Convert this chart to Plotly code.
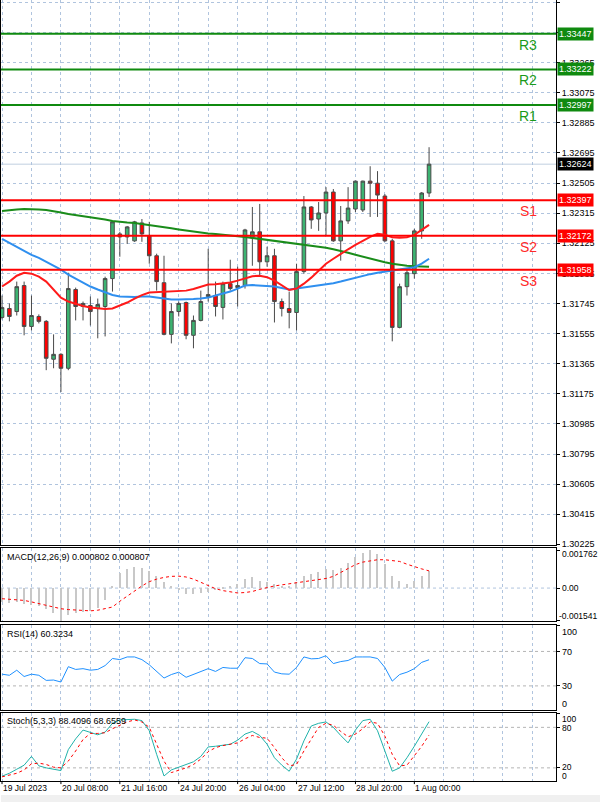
import plotly.graph_objects as go

# ---------------- data ----------------
open_ = [1.31657, 1.31713, 1.31694, 1.31858, 1.31600, 1.31663, 1.31632, 1.31393, 1.31424, 1.31336,
         1.31833, 1.31726, 1.31732, 1.31713, 1.31726, 1.31902, 1.32184, 1.32165, 1.32140, 1.32253,
         1.32172, 1.32046, 1.31876, 1.31550, 1.31694, 1.31751, 1.31544, 1.31638, 1.31789, 1.31795,
         1.31720, 1.31870, 1.31845, 1.31858, 1.32159, 1.32197, 1.32008, 1.32046, 1.31757, 1.31713,
         1.31688, 1.31946, 1.32354, 1.32278, 1.32316, 1.32448, 1.32140, 1.32266, 1.32341, 1.32335,
         1.32517, 1.32504, 1.32423, 1.32140, 1.31594, 1.31851, 1.31933, 1.32203, 1.32442]
high = [1.31795, 1.31745, 1.31883, 1.31883, 1.31795, 1.31676, 1.31640, 1.31550, 1.31431, 1.31939,
        1.31845, 1.31757, 1.31789, 1.31776, 1.31914, 1.32266, 1.32197, 1.32234, 1.32266, 1.32278,
        1.32260, 1.32059, 1.32046, 1.31745, 1.31757, 1.31757, 1.31669, 1.31826, 1.32090, 1.31883,
        1.31883, 1.32021, 1.31977, 1.32216, 1.32354, 1.32373, 1.32103, 1.32090, 1.31776, 1.31820,
        1.31996, 1.32423, 1.32360, 1.32385, 1.32479, 1.32467, 1.32360, 1.32479, 1.32520, 1.32520,
        1.32611, 1.32580, 1.32435, 1.32153, 1.31870, 1.31964, 1.32216, 1.32448, 1.32731]
low = [1.31644, 1.31632, 1.31669, 1.31544, 1.31575, 1.31619, 1.31324, 1.31336, 1.31186, 1.31324,
       1.31638, 1.31638, 1.31606, 1.31525, 1.31537, 1.31820, 1.32040, 1.32121, 1.32134, 1.32134,
       1.31996, 1.31826, 1.31544, 1.31493, 1.31663, 1.31519, 1.31462, 1.31632, 1.31757, 1.31663,
       1.31644, 1.31826, 1.31726, 1.31839, 1.31983, 1.31914, 1.31977, 1.31625, 1.31663, 1.31588,
       1.31575, 1.31933, 1.32216, 1.32203, 1.32172, 1.32134, 1.32015, 1.32247, 1.32322, 1.32322,
       1.32291, 1.32291, 1.32134, 1.31506, 1.31588, 1.31795, 1.31902, 1.32153, 1.32417]
close = [1.31719, 1.31663, 1.31851, 1.31600, 1.31669, 1.31632, 1.31399, 1.31424, 1.31336, 1.31839,
         1.31726, 1.31745, 1.31694, 1.31738, 1.31902, 1.32260, 1.32165, 1.32228, 1.32260, 1.32184,
         1.32046, 1.31883, 1.31550, 1.31694, 1.31745, 1.31544, 1.31638, 1.31757, 1.31801, 1.31726,
         1.31870, 1.31839, 1.31858, 1.32209, 1.32197, 1.32008, 1.32046, 1.31757, 1.31713, 1.31688,
         1.31946, 1.32354, 1.32272, 1.32316, 1.32448, 1.32140, 1.32266, 1.32347, 1.32517, 1.32517,
         1.32504, 1.32429, 1.32140, 1.31594, 1.31851, 1.31939, 1.32203, 1.32442, 1.32624]

ma_slow = [1.32329, 1.32335, 1.32338, 1.32341, 1.32341, 1.32338, 1.32335, 1.32329, 1.32319, 1.32310,
           1.32303, 1.32297, 1.32291, 1.32285, 1.32275, 1.32266, 1.32260, 1.32256, 1.32253, 1.32247,
           1.32241, 1.32234, 1.32228, 1.32219, 1.32212, 1.32206, 1.32197, 1.32190, 1.32187, 1.32184,
           1.32178, 1.32172, 1.32169, 1.32165, 1.32159, 1.32153, 1.32147, 1.32140, 1.32134, 1.32128,
           1.32121, 1.32115, 1.32109, 1.32103, 1.32096, 1.32087, 1.32077, 1.32065, 1.32052, 1.32040,
           1.32027, 1.32014, 1.32005, 1.31996, 1.31989, 1.31983, 1.31980, 1.31977, 1.31977]
ma_mid = [1.32153, 1.32128, 1.32103, 1.32077, 1.32052, 1.32033, 1.32008, 1.31983, 1.31958, 1.31927,
          1.31902, 1.31877, 1.31852, 1.31833, 1.31814, 1.31798, 1.31789, 1.31786, 1.31786, 1.31789,
          1.31789, 1.31782, 1.31776, 1.31770, 1.31770, 1.31770, 1.31773, 1.31776, 1.31782, 1.31795,
          1.31808, 1.31820, 1.31839, 1.31858, 1.31861, 1.31858, 1.31855, 1.31852, 1.31842, 1.31833,
          1.31839, 1.31845, 1.31852, 1.31858, 1.31864, 1.31873, 1.31883, 1.31895, 1.31908, 1.31920,
          1.31930, 1.31939, 1.31946, 1.31952, 1.31958, 1.31964, 1.31974, 1.31996, 1.32027]
ma_fast = [1.31852, 1.31883, 1.31920, 1.31939, 1.31933, 1.31914, 1.31883, 1.31833, 1.31782, 1.31757,
           1.31742, 1.31729, 1.31720, 1.31713, 1.31710, 1.31713, 1.31732, 1.31751, 1.31776, 1.31798,
           1.31814, 1.31817, 1.31820, 1.31820, 1.31823, 1.31826, 1.31836, 1.31852, 1.31864, 1.31867,
           1.31870, 1.31877, 1.31889, 1.31902, 1.31917, 1.31920, 1.31911, 1.31889, 1.31858, 1.31830,
           1.31839, 1.31870, 1.31908, 1.31952, 1.31996, 1.32027, 1.32059, 1.32087, 1.32115, 1.32140,
           1.32165, 1.32184, 1.32178, 1.32162, 1.32159, 1.32162, 1.32178, 1.32209, 1.32241]

macd_main = [-0.00065, -0.00070, -0.00065, -0.00075, -0.00080, -0.00085, -0.00100, -0.00120, -0.001541, -0.00130,
             -0.00120, -0.00115, -0.00110, -0.00095, -0.00055, 0.00005, 0.00070, 0.00090, 0.00100, 0.00095,
             0.00080, 0.00055, 0.00025, 0.00010, -0.00010, -0.00030, -0.00030, -0.00025, -0.00020, -0.00010,
             -0.00002, 0.00008, 0.00020, 0.00040, 0.00050, 0.00030, 0.00028, 0.00018, 0.00008, 0.00010,
             0.00028, 0.00055, 0.00065, 0.00072, 0.00090, 0.00085, 0.00095, 0.00115, 0.00145, 0.00165,
             0.001762, 0.00160, 0.00110, 0.00055, 0.00030, 0.00020, 0.00030, 0.00055, 0.000802]
macd_signal = [-0.00050, -0.00052, -0.00055, -0.00058, -0.00065, -0.00073, -0.00080, -0.00088, -0.00097, -0.00101,
               -0.00104, -0.00107, -0.00107, -0.00104, -0.00098, -0.00089, -0.00062, -0.00038, -0.00012, 0.00010,
               0.00030, 0.00042, 0.00050, 0.00055, 0.00056, 0.00052, 0.00042, 0.00028, 0.00012, -0.00003,
               -0.00012, -0.00019, -0.00023, -0.00021, -0.00016, -0.00006, 0.00003, 0.00010, 0.00015, 0.00020,
               0.00025, 0.00030, 0.00034, 0.00039, 0.00045, 0.00055, 0.00074, 0.00090, 0.00110, 0.00122,
               0.00129, 0.00133, 0.00133, 0.00129, 0.00125, 0.00112, 0.00100, 0.00090, 0.000807]

rsi = [43.6, 42.3, 48.2, 40.9, 43.6, 42.3, 36.4, 36.8, 34.5, 52.3,
       49.1, 50.0, 48.2, 49.1, 53.6, 61.8, 60.5, 63.6, 63.6, 60.5,
       54.5, 46.8, 39.1, 43.2, 45.9, 40.0, 43.6, 46.8, 50.0, 46.8,
       51.4, 50.5, 50.5, 62.7, 61.8, 55.9, 55.5, 46.0, 44.0, 43.6,
       51.4, 63.6, 61.4, 61.8, 65.0, 55.9, 58.2, 59.5, 63.6, 63.6,
       63.6, 61.8, 51.4, 35.5, 43.2, 45.9, 50.0, 57.3, 60.3234]

stoch_k = [7.7, 12, 18, 24, 37, 23, 20, 18, 16, 47,
           63, 76, 72, 69, 73, 86, 91, 91, 92, 90,
           75, 40, 8, 17, 21, 25, 29, 37, 51, 52,
           53, 55, 61, 70, 74, 68, 55, 35, 24, 15,
           33, 60, 82, 86, 88, 80, 68, 57, 76, 90,
           92, 75, 45, 15, 20, 35, 52, 70, 88.4096]
stoch_d = [6.7, 9, 12, 17, 26, 27, 25, 21, 20, 30,
           45, 62, 71, 71, 72, 78, 83, 88, 91, 88,
           80, 55, 30, 13, 16, 20, 25, 33, 44, 50,
           53, 55, 57, 63, 68, 65, 64, 50, 35, 23,
           25, 45, 62, 80, 86, 83, 74, 66, 70, 78,
           88, 86, 67, 40, 23, 24, 38, 52, 68.6559]

date_labels = ["19 Jul 2023", "20 Jul 08:00", "21 Jul 16:00", "24 Jul 20:00",
               "26 Jul 04:00", "27 Jul 12:00", "28 Jul 20:00", "1 Aug 00:00"]
date_label_bars = [0, 8, 16, 24, 32, 40, 48, 56]

price_ticks = [1.30225, 1.30415, 1.30605, 1.30795, 1.30985, 1.31175, 1.31365, 1.31555, 1.31745,
               1.31935, 1.32125, 1.32315, 1.32505, 1.32695, 1.32885, 1.33075, 1.33265, 1.33455, 1.33645]
hidden_price_labels = [1.33455]   # fully covered by the R3 box in the reference

resist_names = ["R1", "R2", "R3"]
resist_levels = [1.32997, 1.33222, 1.33447]
support_names = ["S1", "S2", "S3"]
support_levels = [1.32397, 1.32172, 1.31958]
current_price = 1.32624

macd_labels = ["0.001762", "0.00", "-0.001541"]
rsi_levels = [70, 30]
rsi_labels = ["100", "70", "30", "0"]
stoch_levels = [80, 20]
stoch_labels = ["100", "80", "20", "0"]

# ---------------- layout helpers ----------------
W, H = 600, 806
XR = 556 / W


def py(pix):
    return (H - pix) / H


FONT = "Liberation Sans, Arial, sans-serif"
GRID = "#b0c4de"
idx = list(range(len(close)))

fig = go.Figure()

fig.add_trace(go.Candlestick(
    x=idx, open=open_, high=high, low=low, close=close,
    increasing=dict(fillcolor="#3cb371", line=dict(color="#4a4a4a", width=1)),
    decreasing=dict(fillcolor="#ff0000", line=dict(color="#4a4a4a", width=1)),
    whiskerwidth=0, showlegend=False, hoverinfo="skip", xaxis="x", yaxis="y"))

for vals, col in [(ma_slow, "#1a8c1a"), (ma_mid, "#2f8fef"), (ma_fast, "#ff1a1a")]:
    fig.add_trace(go.Scatter(x=idx, y=vals, mode="lines", line=dict(color=col, width=2),
                             showlegend=False, hoverinfo="skip", xaxis="x", yaxis="y"))

fig.add_trace(go.Bar(x=idx, y=macd_main, width=0.18, marker=dict(color="#c8c8c8", line=dict(width=0)),
                     showlegend=False, hoverinfo="skip", xaxis="x2", yaxis="y2"))
fig.add_trace(go.Scatter(x=idx, y=macd_signal, mode="lines", line=dict(color="#ff0000", width=1, dash="dot"),
                         showlegend=False, hoverinfo="skip", xaxis="x2", yaxis="y2"))

fig.add_trace(go.Scatter(x=idx, y=rsi, mode="lines", line=dict(color="#1e90ff", width=1),
                         showlegend=False, hoverinfo="skip", xaxis="x3", yaxis="y3"))

fig.add_trace(go.Scatter(x=idx, y=stoch_k, mode="lines", line=dict(color="#20b2aa", width=1),
                         showlegend=False, hoverinfo="skip", xaxis="x4", yaxis="y4"))
fig.add_trace(go.Scatter(x=idx, y=stoch_d, mode="lines", line=dict(color="#ff0000", width=1, dash="dot"),
                         showlegend=False, hoverinfo="skip", xaxis="x4", yaxis="y4"))

xcommon = dict(domain=[0, XR], range=[-0.14, 75.25], showgrid=True, gridcolor=GRID, griddash="3px,3px",
               gridwidth=1, tick0=0, dtick=4, showticklabels=False, ticks="", zeroline=False,
               showline=True, linecolor="black", linewidth=1, fixedrange=True)
ycommon = dict(side="right", showline=True, linecolor="black", linewidth=1, mirror=True,
               zeroline=False, ticks="outside", ticklen=3, tickcolor="black",
               tickfont=dict(family=FONT, size=9, color="black"), fixedrange=True)

price_ticktext = ["" if v in hidden_price_labels else f"{v:.5f}" for v in price_ticks]

layout = dict(
    width=W, height=H, autosize=False, margin=dict(l=0, r=0, t=0, b=0),
    paper_bgcolor="white", plot_bgcolor="white", showlegend=False, bargap=0,
    font=dict(family=FONT, size=9, color="black"),
    xaxis=dict(xcommon, anchor="y", mirror=False, rangeslider=dict(visible=False)),
    xaxis2=dict(xcommon, anchor="y2", matches="x", mirror=True),
    xaxis3=dict(xcommon, anchor="y3", matches="x", mirror=True),
    xaxis4=dict(xcommon, anchor="y4", matches="x", mirror=True),
    yaxis=dict(ycommon, anchor="x", domain=[py(548), 1.0], range=[1.30219, 1.33660],
               tickmode="array", tickvals=price_ticks, ticktext=price_ticktext,
               showgrid=True, gridcolor=GRID, griddash="3px,3px"),
    yaxis2=dict(ycommon, anchor="x2", domain=[py(624), py(551)], range=[-0.001542, 0.001869],
                tickmode="array", tickvals=[0.001762, 0.0, -0.001541], showticklabels=False, showgrid=False),
    yaxis3=dict(ycommon, anchor="x3", domain=[py(714), py(628)], range=[1.5, 100.8],
                tickmode="array", tickvals=[100, 70, 30, 0], showticklabels=False, showgrid=False),
    yaxis4=dict(ycommon, anchor="x4", domain=[py(785), py(717)], range=[0.4, 100.6],
                tickmode="array", tickvals=[100, 80, 20, 0], showticklabels=False, showgrid=False),
)
fig.update_layout(**layout)

shapes = []
ann = []

# bid line
shapes.append(dict(type="line", xref="x domain", x0=0, x1=1, yref="y", y0=current_price, y1=current_price,
                   line=dict(color="#c0cfe0", width=1), layer="below"))
for lv in resist_levels:
    shapes.append(dict(type="line", xref="x domain", x0=0, x1=1, yref="y", y0=lv, y1=lv,
                       line=dict(color="#0f8a0f", width=2)))
for lv in support_levels:
    shapes.append(dict(type="line", xref="x domain", x0=0, x1=1, yref="y", y0=lv, y1=lv,
                       line=dict(color="#ff0000", width=2)))
# MACD zero, RSI and Stoch levels
shapes.append(dict(type="line", xref="x2 domain", x0=0, x1=1, yref="y2", y0=0, y1=0,
                   line=dict(color=GRID, width=1, dash="3px,3px"), layer="below"))
for lv in rsi_levels:
    shapes.append(dict(type="line", xref="x3 domain", x0=0, x1=1, yref="y3", y0=lv, y1=lv,
                       line=dict(color="#b4b4b4", width=1, dash="3px,3px"), layer="below"))
for lv in stoch_levels:
    shapes.append(dict(type="line", xref="x4 domain", x0=0, x1=1, yref="y4", y0=lv, y1=lv,
                       line=dict(color="#b4b4b4", width=1, dash="3px,3px"), layer="below"))
# bottom strip
shapes.append(dict(type="rect", xref="paper", yref="paper", x0=0, x1=1, y0=0, y1=py(799),
                   fillcolor="#f0f0f0", line=dict(width=0), layer="below"))

# level boxes on price scale
for lv in resist_levels:
    ann.append(dict(x=XR, xref="paper", xanchor="left", y=lv, yref="y", yanchor="middle",
                    text=f"{lv:.5f}", showarrow=False, bgcolor="#0f8a0f", borderpad=1, xshift=1,
                    font=dict(family=FONT, size=9, color="white")))
for lv in support_levels:
    ann.append(dict(x=XR, xref="paper", xanchor="left", y=lv, yref="y", yanchor="middle",
                    text=f"{lv:.5f}", showarrow=False, bgcolor="#ff0000", borderpad=1, xshift=1,
                    font=dict(family=FONT, size=9, color="white")))
ann.append(dict(x=XR, xref="paper", xanchor="left", y=current_price, yref="y", yanchor="middle",
                text=f"{current_price:.5f}", showarrow=False, bgcolor="black", borderpad=1, xshift=1,
                font=dict(family=FONT, size=9, color="white")))

for name, lv in zip(resist_names, resist_levels):
    ann.append(dict(x=528 / W, xref="paper", xanchor="center", y=lv, yref="y", yanchor="middle", yshift=-11,
                    text=name, showarrow=False, font=dict(family=FONT, size=14, color="#1a9a1a")))
for name, lv in zip(support_names, support_levels):
    ann.append(dict(x=528 / W, xref="paper", xanchor="center", y=lv, yref="y", yanchor="middle", yshift=-11,
                    text=name, showarrow=False, font=dict(family=FONT, size=14, color="#ff2a2a")))

# sub-panel scale labels
for txt, pix in zip(macd_labels, [557, 591, 619]):
    ann.append(dict(x=XR, xref="paper", xanchor="left", xshift=1 if txt.startswith("-") else 4,
                    y=py(pix), yref="paper", yanchor="middle",
                    text=txt, showarrow=False, font=dict(family=FONT, size=8.5, color="black")))
for txt, pix in zip(rsi_labels, [635, 655, 689, 708]):
    ann.append(dict(x=XR, xref="paper", xanchor="left", xshift=4, y=py(pix), yref="paper", yanchor="middle",
                    text=txt, showarrow=False, font=dict(family=FONT, size=9, color="black")))
for txt, pix in zip(stoch_labels, [723, 732, 771, 780]):
    ann.append(dict(x=XR, xref="paper", xanchor="left", xshift=4, y=py(pix), yref="paper", yanchor="middle",
                    text=txt, showarrow=False, font=dict(family=FONT, size=8.5, color="black")))

# panel titles
titles = [("MACD(12,26,9) 0.000802 0.000807", 560),
          ("RSI(14) 60.3234", 637),
          ("Stoch(5,3,3) 88.4096 68.6559", 725)]
for txt, pix in titles:
    ann.append(dict(x=4 / W, xref="paper", xanchor="left", y=py(pix), yref="paper", yanchor="middle",
                    text=txt, showarrow=False, font=dict(family=FONT, size=9, color="black")))

# date labels
for txt, b in zip(date_labels, date_label_bars):
    ann.append(dict(x=b, xref="x4", xanchor="left", xshift=-1, y=py(792), yref="paper", yanchor="middle",
                    text=txt, showarrow=False, font=dict(family=FONT, size=8.5, color="black")))
    shapes.append(dict(type="line", xref="x4", x0=b, x1=b, yref="paper", y0=py(785), y1=py(788),
                       line=dict(color="black", width=1)))

fig.update_layout(shapes=shapes, annotations=ann)
fig.write_html("out.html")
